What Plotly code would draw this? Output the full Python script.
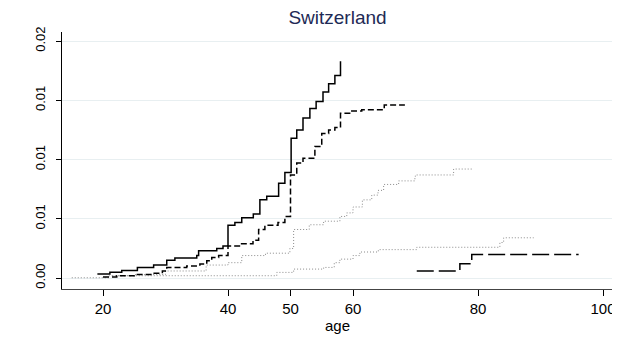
import plotly.graph_objects as go

# --- data ---
solid_age = [19.1, 21.1, 23.0, 25.5, 28.1, 30.2, 31.5, 35.0, 35.3, 38.2, 39.2, 40.0, 41.1, 42.2, 44.05, 45.1,
             46.2, 48.1, 49.1, 50.1, 51.0, 52.0, 53.1, 54.1, 55.2, 56.1, 57.1, 58.0]
solid_val = [0.00035, 0.0005, 0.00065, 0.0009, 0.0011, 0.0015, 0.0017, 0.0019, 0.0023, 0.0025, 0.0027, 0.00445,
             0.0047, 0.0051, 0.0054, 0.0066, 0.0069, 0.0080, 0.0089, 0.0118, 0.0125, 0.0135, 0.0143, 0.0149,
             0.0157, 0.0164, 0.0171, 0.0183]

dash_age = [20.0, 22.2, 25.0, 28.0, 29.5, 30.2, 33.4, 35.5, 36.6, 37.4, 38.5, 40.0, 42.0, 44.0, 44.9, 45.9,
            48.0, 49.1, 50.0, 51.0, 52.0, 53.9, 55.0, 56.1, 57.1, 58.0, 59.6, 61.4, 65.0, 68.3]
dash_val = [0.0001, 0.0002, 0.0003, 0.0004, 0.0006, 0.0009, 0.00103, 0.00118, 0.00146, 0.00174, 0.0019, 0.0027,
            0.0029, 0.0032, 0.0041, 0.00445, 0.0047, 0.0052, 0.0087, 0.0097, 0.0101, 0.0111, 0.0122, 0.0125,
            0.0127, 0.0139, 0.0141, 0.0142, 0.0146, 0.0146]

dot_hi_age = [21.5, 25.0, 30.0, 36.5, 40.0, 42.2, 46.0, 49.9, 50.5, 53.0, 55.3, 57.9, 59.0, 60.0, 61.5, 63.0,
              64.0, 64.9, 67.3, 69.9, 70.2, 76.1, 79.3]
dot_hi_val = [0.0002, 0.0003, 0.0006, 0.0011, 0.0013, 0.0019, 0.0021, 0.0025, 0.0041, 0.0045, 0.0048, 0.0052,
              0.0055, 0.0060, 0.0066, 0.0070, 0.0074, 0.0079, 0.0082, 0.0086, 0.0087, 0.0092, 0.0092]

dot_lo_age = [15.0, 21.0, 47.8, 48.2, 50.5, 55.3, 57.0, 57.9, 60.0, 61.1, 64.05, 70.2, 83.0, 83.5, 84.1, 88.9]
dot_lo_val = [0.00003, 0.0002, 0.00048, 0.00048, 0.00076, 0.0009, 0.0013, 0.0016, 0.0019, 0.0022, 0.0024,
              0.0026, 0.0026, 0.0030, 0.0034, 0.0034]

ldash_age = [70.2, 77.1, 79.0, 96.1]
ldash_val = [0.0006, 0.0012, 0.0020, 0.0020]

x_ticks = [20, 40, 50, 60, 80, 100]
y_ticks = [0, 0.005, 0.01, 0.015, 0.02]
y_tick_text = ["0.00", "0.01", "0.01", "0.01", "0.02"]

fig = go.Figure()

def add(xs, ys, color, width, dash):
    fig.add_trace(go.Scatter(x=xs, y=ys, mode="lines", line=dict(color=color, width=width, dash=dash, shape="hv"),
                             showlegend=False, hoverinfo="skip"))

add(dot_lo_age, dot_lo_val, "#8a8a8a", 1, "1px,2px")
add(dot_hi_age, dot_hi_val, "#8a8a8a", 1, "1px,2px")
add(ldash_age, ldash_val, "black", 1.5, "17px,5px")
add(dash_age, dash_val, "black", 1.5, "6px,3px")
add(solid_age, solid_val, "black", 1.5, "solid")

fig.update_layout(
    width=620, height=342,
    margin=dict(l=54, r=15, t=24, b=61),
    paper_bgcolor="white", plot_bgcolor="white",
    font=dict(family="Liberation Sans, Arial, sans-serif", color="black"),
    title=dict(text="Switzerland", x=0.5, xanchor="center", xref="paper", y=1 - 3 / 342, yanchor="top",
               pad=dict(t=0, b=0), font=dict(size=19, color="#1e2a55")),
    xaxis=dict(range=[13.44, 101.6], tickvals=x_ticks, ticks="outside", ticklen=6, tickcolor="black",
               showline=True, linecolor="#444", linewidth=1, showgrid=False, zeroline=False,
               tickfont=dict(size=15), title=dict(text="age", font=dict(size=15), standoff=2)),
    yaxis=dict(range=[-0.00092, 0.02076], tickvals=y_ticks, ticktext=y_tick_text, ticks="outside", ticklen=5,
               tickcolor="black", showline=True, linecolor="black", linewidth=1, showgrid=True,
               gridcolor="#e8eff1", gridwidth=1, zeroline=False, tickangle=-90, tickfont=dict(size=13),
               ticklabelstandoff=6),
)

fig.write_html("out.html")
